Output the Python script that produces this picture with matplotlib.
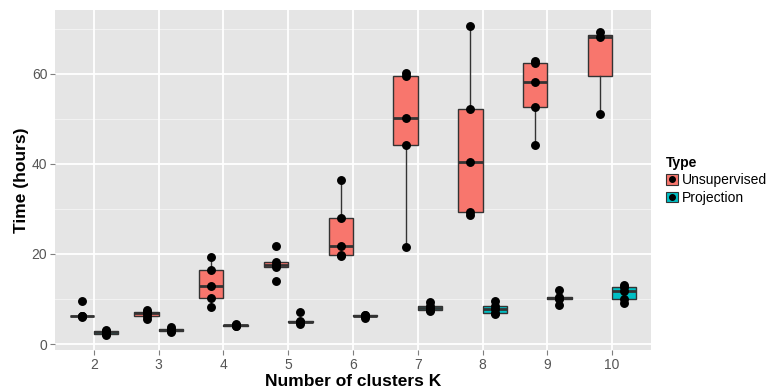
import matplotlib
matplotlib.use("Agg")
import matplotlib.pyplot as plt
from matplotlib.patches import Patch
from matplotlib.lines import Line2D
import numpy as np

plt.rcParams['font.family'] = ['Liberation Sans', 'DejaVu Sans']

K = [2, 3, 4, 5, 6, 7, 8, 9, 10]
unsupervised = [
    [6.0, 6.2, 6.2, 6.3, 9.6],
    [5.6, 6.2, 6.8, 7.2, 7.6],
    [8.2, 10.2, 12.9, 16.4, 19.4],
    [14.0, 17.2, 17.6, 18.3, 21.8],
    [19.5, 19.7, 21.8, 28.1, 36.4],
    [21.6, 44.3, 50.2, 59.6, 60.2],
    [28.6, 29.3, 40.5, 52.1, 70.7],
    [44.2, 52.7, 58.3, 62.4, 62.9],
    [51.0, 68.2, 69.3],
]
projection = [
    [2.0, 2.3, 2.6, 2.8, 3.2],
    [2.6, 2.9, 3.1, 3.3, 3.8],
    [4.0, 4.1, 4.2, 4.3, 4.4],
    [4.4, 4.8, 5.0, 5.1, 7.1],
    [5.7, 6.2, 6.3, 6.4, 6.5],
    [7.4, 7.6, 8.0, 8.5, 9.3],
    [6.7, 6.8, 7.8, 8.4, 9.5],
    [8.6, 10.1, 10.3, 10.4, 12.0],
    [9.0, 9.9, 11.8, 12.7, 13.0],
]
series_names = ["Unsupervised", "Projection"]
colors = ["#F8766D", "#00BFC4"]

fig = plt.figure(figsize=(7.72, 3.88), dpi=100)
ax = fig.add_axes([55/772, 1-350/388, (651-55)/772, 340/388])
ax.set_facecolor("#E5E5E5")

# grid
for y in [10, 30, 50, 70]:
    ax.axhline(y, color="#F2F2F2", lw=0.8, zorder=0)
for y in [0, 20, 40, 60]:
    ax.axhline(y, color="white", lw=1.3, zorder=0)
for x in K:
    ax.axvline(x, color="white", lw=1.3, zorder=0)

dodge = 0.1875
bw = 0.375
edge = "#333333"
for data, off, col in [(unsupervised, -dodge, colors[0]), (projection, dodge, colors[1])]:
    pos = [k + off for k in K]
    ax.boxplot(data, positions=pos, widths=bw, patch_artist=True, showfliers=False,
               showcaps=False, manage_ticks=False,
               boxprops=dict(facecolor=col, edgecolor=edge, lw=1.0),
               whiskerprops=dict(color=edge, lw=1.0),
               medianprops=dict(color=edge, lw=2.0),
               zorder=2)
    for p, vals in zip(pos, data):
        ax.plot([p]*len(vals), vals, 'o', color='black', ms=5.4, zorder=3, mec='black')

ax.set_xlim(1.4, 10.6)
ax.set_ylim(-1.33, 74.2)
ax.set_xticks(K)
ax.set_xticklabels([str(k) for k in K])
ax.set_yticks([0, 20, 40, 60])
ax.tick_params(axis='both', colors="#7F7F7F", labelcolor="#555555", labelsize=10,
               length=3.5, width=0.8, pad=2)
for s in ax.spines.values():
    s.set_visible(False)
ax.set_xlabel("Number of clusters K", fontsize=12.5, fontweight='bold', labelpad=2)
ax.set_ylabel("Time (hours)", fontsize=12.5, fontweight='bold', labelpad=2)

handles = []
for col in colors:
    handles.append((Patch(facecolor=col, edgecolor=edge, lw=0.8),
                    Line2D([], [], marker='o', color='black', ls='', ms=4)))
leg = fig.legend(handles, series_names, title="Type", loc='upper left',
                 bbox_to_anchor=(656/772, 1-146/388), frameon=False,
                 fontsize=10, title_fontproperties={'weight': 'bold', 'size': 10},
                 handlelength=0.9, handleheight=0.8, handletextpad=0.25, labelspacing=0.25,
                 borderpad=0.2)
leg._legend_box.align = "left"

fig.savefig("out.png", dpi=100)
